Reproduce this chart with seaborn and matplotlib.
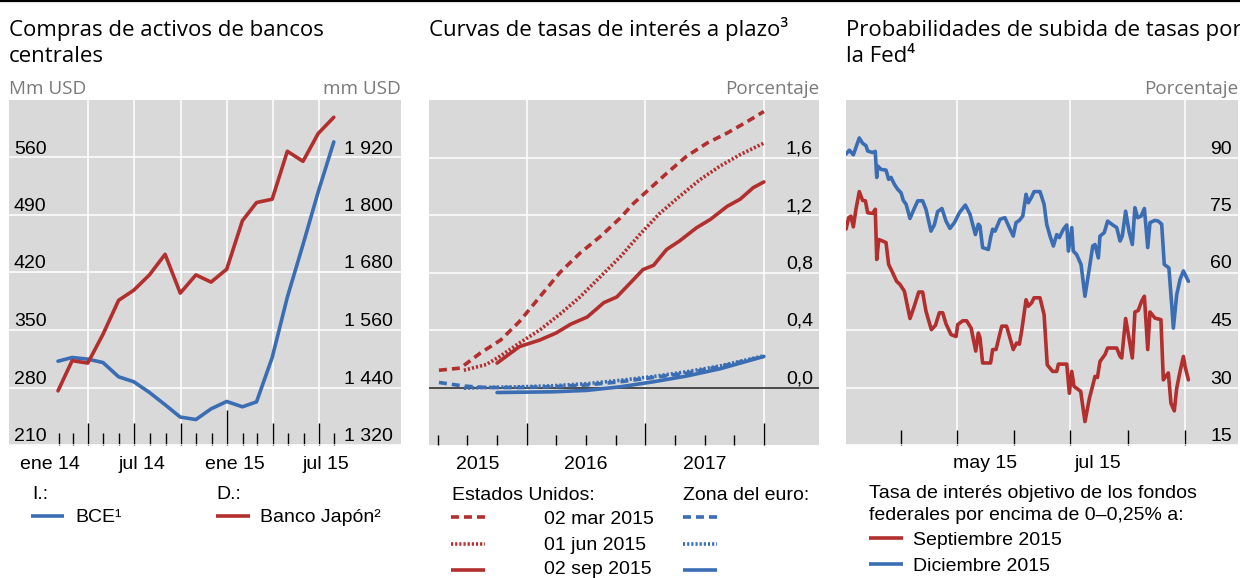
import numpy as np
import pandas as pd
import matplotlib
matplotlib.use("Agg")
import matplotlib.pyplot as plt
import matplotlib.dates as mdates
from matplotlib.lines import Line2D
import seaborn as sns

# ---------------- Data ----------------
# Panel 1: central bank asset purchases (month-end, Jan 2014 - Jul 2015)
p1_first_month_end = "2014-01-31"
bce_mm = [312, 316.5, 314.5, 310.4, 293, 287, 274, 259, 244, 241, 254, 263,
          256.5, 262.5, 316.5, 390, 454, 518, 579]
boj_mm = [1433, 1496, 1491, 1551, 1622, 1643, 1675, 1718, 1637, 1675, 1660, 1687,
          1788, 1826, 1833, 1933, 1912, 1970, 2004]
p1_left_ticks = [210, 280, 350, 420, 490, 560]
p1_right_ticks = [1320, 1440, 1560, 1680, 1800, 1920]
p1_right_labels = ["1 320", "1 440", "1 560", "1 680", "1 800", "1 920"]
p1_xlabels = ["ene 14", "jul 14", "ene 15", "jul 15"]
p1_xlabel_dates = ["2014-01-16", "2014-07-16", "2015-01-16", "2015-07-16"]

# Panel 2: forward curves (x in fractional years)
us_mar_x = [2015.26, 2015.44, 2015.61, 2015.78, 2015.94, 2016.11, 2016.28, 2016.45, 2016.62,
            2016.79, 2016.90, 2016.98, 2017.18, 2017.35, 2017.52, 2017.69, 2017.86, 2018.0]
us_mar_y = [0.12, 0.135, 0.24, 0.33, 0.46, 0.63, 0.80, 0.935, 1.05,
            1.18, 1.28, 1.34, 1.49, 1.61, 1.70, 1.77, 1.85, 1.92]
us_jun_x = [2015.47, 2015.66, 2015.78, 2015.94, 2016.11, 2016.28, 2016.45, 2016.62,
            2016.79, 2016.96, 2017.12, 2017.29, 2017.46, 2017.63, 2017.80, 2018.0]
us_jun_y = [0.12, 0.16, 0.22, 0.31, 0.40, 0.51, 0.63, 0.77,
            0.91, 1.07, 1.21, 1.33, 1.445, 1.54, 1.62, 1.70]
us_sep_x = [2015.75, 2015.94, 2016.11, 2016.25, 2016.37, 2016.51, 2016.65, 2016.76, 2016.90,
            2016.98, 2017.07, 2017.18, 2017.29, 2017.43, 2017.55, 2017.69, 2017.80, 2017.91, 2018.0]
us_sep_y = [0.17, 0.285, 0.33, 0.38, 0.44, 0.49, 0.59, 0.63, 0.75,
            0.82, 0.85, 0.96, 1.02, 1.11, 1.17, 1.26, 1.31, 1.39, 1.43]
ez_mar_x = [2015.26, 2015.47, 2015.66, 2015.94, 2016.22, 2016.51, 2016.79, 2017.07, 2017.35, 2017.63, 2018.0]
ez_mar_y = [0.035, 0.01, 0.0, 0.0, 0.005, 0.018, 0.04, 0.07, 0.10, 0.145, 0.216]
ez_jun_x = [2015.47, 2015.66, 2015.94, 2016.22, 2016.51, 2016.79, 2017.07, 2017.35, 2017.63, 2018.0]
ez_jun_y = [-0.005, 0.0, 0.005, 0.012, 0.027, 0.05, 0.077, 0.11, 0.15, 0.22]
ez_sep_x = [2015.75, 2016.22, 2016.51, 2016.79, 2017.07, 2017.35, 2017.63, 2018.0]
ez_sep_y = [-0.035, -0.03, -0.02, 0.005, 0.04, 0.08, 0.13, 0.216]
p2_ticks = [0.0, 0.4, 0.8, 1.2, 1.6]
p2_labels = ["0,0", "0,4", "0,8", "1,2", "1,6"]
p2_xlabels = ["2015", "2016", "2017"]
p2_xlabel_pos = [2015.59, 2016.5, 2017.5]

# Panel 3: Fed hike probabilities (x = days since 1 Mar 2015)
p3_origin = "2015-03-01"
sep_day = [1.35, 2.8, 4.0, 5.3, 6.7, 8.5, 10.3, 11.8, 13.0, 15.7,
           17.1, 17.9, 19.0, 21.1, 22.9, 24.3, 26.5, 28.6, 30.4, 32.8,
           34.6, 35.8, 38.1, 40.5, 42.6, 44.4, 47.3, 49.5, 51.6, 53.4,
           55.2, 57.9, 60.6, 61.5, 64.2, 66.3, 68.7, 71.2,
           72.6, 73.5, 74.9, 79.2, 80.3, 82.1, 85.2, 87.8, 91.4, 93.2,
           94.7, 95.9, 98.3, 99.5, 101.3, 102.6, 105.8, 108.0, 109.7, 112.6,
           114.8, 115.7, 120.2, 121.6, 122.9, 124.1, 127.7, 130.0, 132.4, 134.5,
           135.4, 136.7, 138.1,
           140.8, 142.2, 147.1, 148.9, 149.8, 151.9, 153.7, 155.5, 156.9, 158.7,
           160.5, 162.0, 163.8, 165.0, 167.7, 170.9, 172.2, 174.9, 176.3, 178.1,
           179.4, 181.2, 183.0, 183.9, 185.7]
sep_prob = [71.3, 74.3, 74.7, 71.9, 76.5, 81.1, 78.8, 78.7, 75.6, 75.4,
            76.5, 63.4, 68.6, 68.2, 67.8, 62.1, 59.9, 57.7, 56.9, 55.1,
            50.8, 48.0, 51.2, 54.9, 54.9, 49.9, 45.1, 46.2, 49.5, 49.5,
            46.6, 43.8, 43.3, 46.4, 47.4, 47.4, 45.5, 39.5,
            44.2, 42.9, 36.4, 36.4, 39.9, 39.9, 46.0, 46.0, 39.9, 41.6,
            41.3, 44.7, 52.9, 51.2, 52.1, 53.4, 53.4, 49.0, 35.9, 34.2,
            34.2, 36.1, 36.1, 28.5, 34.2, 30.3, 29.0, 21.1, 27.2, 31.1,
            32.9, 32.6, 36.8,
            38.6, 40.3, 40.3, 38.1, 37.7, 48.0, 42.9, 37.7, 49.7, 50.1,
            52.5, 53.8, 39.9, 49.7, 48.1, 47.7, 32.0, 33.8, 25.9, 23.9,
            29.8, 34.2, 38.1, 35.5, 32.0]
dic_day = [1.35, 3.14, 5.3, 8.5, 10.3, 12.1, 13.0, 15.7, 17.1, 17.9,
           18.4, 20.2, 22.9, 24.3, 25.6, 27.4, 29.2, 31.0, 32.2, 33.7,
           35.8, 38.1, 40.0, 42.6, 44.4, 47.1, 48.9, 50.7, 53.0, 55.2,
           57.3, 59.7, 62.4, 65.6, 68.1, 71.0,
           72.6, 73.5, 74.9, 78.0, 79.2, 80.3, 81.6, 84.3, 86.9, 89.3,
           91.4, 92.9, 94.7, 96.5, 98.3, 99.5, 101.3, 102.6, 105.8, 108.0,
           109.4, 111.2, 113.0, 114.8, 116.2, 118.4, 120.2, 121.1, 122.9, 123.7,
           125.5, 127.9, 130.0, 132.4, 134.2, 135.4, 137.2, 138.1,
           140.4, 142.2, 144.4, 147.1, 148.9, 150.1, 151.9, 153.7, 155.5, 156.9,
           158.4, 160.2, 162.0, 163.8, 165.0, 167.7, 169.5, 171.3, 172.7, 175.2,
           176.7, 177.6, 179.4, 181.2, 183.0, 185.7]
dic_prob = [90.9, 91.9, 90.7, 95.1, 93.7, 93.1, 91.7, 91.3, 91.6, 84.8,
            87.8, 86.9, 86.7, 84.3, 84.8, 83.0, 81.7, 80.8, 78.8, 77.8,
            74.1, 76.7, 78.7, 78.7, 76.5, 70.8, 72.4, 75.9, 76.7, 73.4,
            71.5, 73.0, 75.6, 77.6, 75.2, 69.9,
            72.6, 72.1, 66.5, 66.0, 69.1, 71.3, 70.8, 73.9, 74.3, 71.7,
            69.5, 73.0, 73.6, 74.7, 80.4, 78.2, 79.7, 81.1, 81.1, 77.8,
            72.6, 69.5, 66.9, 69.9, 69.1, 71.3, 72.4, 65.6, 71.7, 65.6,
            64.7, 62.1, 53.8, 61.2, 66.9, 67.3, 63.8, 69.5,
            70.4, 73.4, 72.6, 71.7, 68.2, 69.5, 76.0, 70.8, 67.3, 76.9,
            74.3, 74.7, 76.7, 66.5, 73.0, 73.6, 73.4, 72.6, 62.1, 61.2,
            51.6, 45.5, 54.2, 58.2, 60.4, 57.7]
p3_ticks = [15, 30, 45, 60, 75, 90]
p3_xlabels = ["may 15", "jul 15"]
p3_xlabel_dates = ["2015-05-16", "2015-07-16"]

# ---------------- Style ----------------
BG = "#d9d9d9"
RED = "#b22f2e"
BLUE = "#3a6db4"
GRAYTXT = "#7a7a7a"
LW = 2.6

sns.set_theme(style="darkgrid", rc={
    "axes.facecolor": BG, "grid.color": "white", "grid.linewidth": 1.1,
    "axes.edgecolor": BG, "xtick.color": "black", "ytick.color": "black",
    "text.color": "black", "axes.labelcolor": "black",
})
plt.rcParams["font.family"] = ["Liberation Sans", "DejaVu Sans"]
TICKFS = 14
TITLE = dict(family=["Open Sans", "DejaVu Sans"], fontsize=16)
UNIT = dict(family=["Open Sans", "DejaVu Sans"], fontsize=13.6, color=GRAYTXT)

W, H = 1240, 578
fig = plt.figure(figsize=(W / 100, H / 100), dpi=100)


def px_axes(l, t, r, b):
    return fig.add_axes([l / W, 1 - b / H, (r - l) / W, (b - t) / H])


def ftext(x, y, s, **kw):
    kw.setdefault("va", "baseline")
    fig.text(x / W, 1 - y / H, s, **kw)


def key(x0, x1, y, color, ls="-"):
    fig.add_artist(Line2D([x0 / W, x1 / W], [1 - y / H, 1 - y / H], color=color,
                          lw=LW, linestyle=ls, dash_capstyle="butt", solid_capstyle="butt"))


def clean(ax):
    for s in ax.spines.values():
        s.set_visible(False)
    ax.set_xlabel("")
    ax.set_ylabel("")


def ylabels_inside(ax, side, ticks, labels, pad_px):
    ax.set_yticks(ticks)
    ax.set_yticklabels(labels, fontsize=TICKFS)
    if side == "left":
        ax.tick_params(axis="y", which="both", left=False, right=False, length=0,
                       labelleft=True, labelright=False, pad=-pad_px * 0.72)
        ha = "left"
    else:
        ax.tick_params(axis="y", which="both", left=False, right=False, length=0,
                       labelleft=False, labelright=True, pad=-pad_px * 0.72)
        ha = "right"
    for t in ax.get_yticklabels():
        t.set_horizontalalignment(ha)
        t.set_verticalalignment("bottom")


# top rule
fig.add_artist(Line2D([0, 1], [1 - 0.8 / H, 1 - 0.8 / H], color="black", lw=1.6))

# ---------------- Panel 1 ----------------
ax1 = px_axes(9, 100, 401, 445)
dates1 = pd.date_range(p1_first_month_end, periods=len(bce_mm), freq="ME")
df1 = pd.DataFrame({"fecha": dates1, "bce": bce_mm, "boj": boj_mm})
sns.lineplot(data=df1, x="fecha", y="bce", ax=ax1, color=BLUE, lw=LW)
ax1r = ax1.twinx()
sns.lineplot(data=df1, x="fecha", y="boj", ax=ax1r, color=RED, lw=LW)
ax1.set_xlim(pd.Timestamp("2013-10-26"), pd.Timestamp("2015-12-11"))
ax1.set_ylim(210, 630)
ax1r.set_ylim(1320, 2040)
q_dates = pd.date_range("2014-04-01", "2015-07-01", freq="QS")
q_ticks = mdates.date2num(q_dates)
m_ticks = mdates.date2num(pd.date_range("2014-02-01", "2015-08-01", freq="MS"))
ax1.set_xticks(q_ticks)
ax1.set_xticks(m_ticks, minor=True)
ax1.tick_params(axis="x", which="major", bottom=True, direction="in", length=15.6,
                width=1.0, color="black", labelbottom=False)
ax1.tick_params(axis="x", which="minor", bottom=True, direction="in", length=8.4,
                width=1.0, color="black", labelbottom=False)
ax1.grid(axis="x", which="major", color="white", lw=1.1)
ax1.grid(axis="y", which="major", color="white", lw=1.1)
ax1.grid(axis="x", which="minor", visible=False)
ax1r.grid(False)
ylabels_inside(ax1, "left", p1_left_ticks, [str(v) for v in p1_left_ticks], 5)
ylabels_inside(ax1r, "right", p1_right_ticks, p1_right_labels, 8)
clean(ax1)
clean(ax1r)
# longer tick at the year boundary (Jan 2015)
ax1.get_xticklabels()
year_idx = list(q_dates).index(pd.Timestamp("2015-01-01"))
ax1.xaxis.get_major_ticks()[year_idx].tick1line.set_markersize(25)
for lab, d in zip(p1_xlabels, p1_xlabel_dates):
    ax1.text(mdates.date2num(pd.Timestamp(d)), -24.3 / 345, lab, transform=ax1.get_xaxis_transform(),
             ha="center", va="baseline", fontsize=TICKFS)

ftext(9, 36, "Compras de activos de bancos", **TITLE)
ftext(9, 62, "centrales", **TITLE)
ftext(9, 94, "Mm USD", **UNIT)
ftext(401, 94, "mm USD", ha="right", **UNIT)
ftext(32, 499, "I.:", fontsize=TICKFS)
ftext(216, 499, "D.:", fontsize=TICKFS)
key(31, 64, 516, BLUE)
ftext(75, 521.7, "BCE\u00b9", fontsize=TICKFS)
key(216, 250, 516, RED)
ftext(260, 521.7, "Banco Japón\u00b2", fontsize=TICKFS)

# ---------------- Panel 2 ----------------
ax2 = px_axes(429, 100, 819, 445)
DASH = (0, (2.2, 1.4))
DOT = (0, (0.6, 0.55))
ax2.axhline(0, color="#3c3c3c", lw=1.3, zorder=1.5)
sns.lineplot(x=ez_mar_x, y=ez_mar_y, ax=ax2, color=BLUE, lw=LW, linestyle=DASH, dash_capstyle="butt")
sns.lineplot(x=ez_jun_x, y=ez_jun_y, ax=ax2, color=BLUE, lw=LW, linestyle=DOT, dash_capstyle="butt")
sns.lineplot(x=ez_sep_x, y=ez_sep_y, ax=ax2, color=BLUE, lw=LW)
sns.lineplot(x=us_mar_x, y=us_mar_y, ax=ax2, color=RED, lw=LW, linestyle=DASH, dash_capstyle="butt")
sns.lineplot(x=us_jun_x, y=us_jun_y, ax=ax2, color=RED, lw=LW, linestyle=DOT, dash_capstyle="butt")
sns.lineplot(x=us_sep_x, y=us_sep_y, ax=ax2, color=RED, lw=LW)
ax2.set_xlim(2015.176, 2018.465)
ax2.set_ylim(-0.4, 2.0)
ax2.set_xticks([2016, 2017, 2018])
ax2.set_xticks(np.arange(2015.25, 2018.0, 0.25), minor=True)
ax2.tick_params(axis="x", which="major", bottom=True, direction="in", length=15.8,
                width=1.0, color="black", labelbottom=False)
ax2.tick_params(axis="x", which="minor", bottom=True, direction="in", length=7.2,
                width=1.0, color="black", labelbottom=False)
ax2.grid(axis="x", which="major", color="white", lw=1.1)
ax2.grid(axis="x", which="minor", visible=False)
ax2.grid(axis="y", which="major", color="white", lw=1.1)
ax2.yaxis.tick_right()
ylabels_inside(ax2, "right", p2_ticks, p2_labels, 6)
clean(ax2)
for lab, xv in zip(p2_xlabels, p2_xlabel_pos):
    ax2.text(xv, -24.3 / 345, lab, transform=ax2.get_xaxis_transform(),
             ha="center", va="baseline", fontsize=TICKFS)

ftext(429, 36, "Curvas de tasas de interés a plazo\u00b3", **TITLE)
ftext(819, 94, "Porcentaje", ha="right", **UNIT)
ftext(451.7, 500, "Estados Unidos:", fontsize=TICKFS)
ftext(683.3, 500, "Zona del euro:", fontsize=TICKFS)
leg_rows = [(517.3, DASH, "02 mar 2015"), (544.0, DOT, "01 jun 2015"), (569.5, "-", "02 sep 2015")]
for yk, ls, lab in leg_rows:
    key(451, 485, yk, RED, ls)
    key(683.3, 717, yk, BLUE, ls)
    ftext(544.3, min(yk + 6.3, 573.5), lab, fontsize=TICKFS)

# ---------------- Panel 3 ----------------
ax3 = px_axes(846, 100, 1238, 445)
origin = pd.Timestamp(p3_origin)
df_sep = pd.DataFrame({"fecha": origin + pd.to_timedelta(sep_day, unit="D"), "prob": sep_prob})
df_dic = pd.DataFrame({"fecha": origin + pd.to_timedelta(dic_day, unit="D"), "prob": dic_prob})
sns.lineplot(data=df_sep, x="fecha", y="prob", ax=ax3, color=RED, lw=LW)
sns.lineplot(data=df_dic, x="fecha", y="prob", ax=ax3, color=BLUE, lw=LW)
ax3.set_xlim(origin + pd.Timedelta(days=1.35), origin + pd.Timedelta(days=212.4))
ax3.set_ylim(15, 105)
ax3.set_xticks(mdates.date2num(pd.to_datetime(["2015-05-01", "2015-07-01", "2015-09-01"])))
ax3.set_xticks(mdates.date2num(pd.date_range("2015-04-01", "2015-09-01", freq="MS")), minor=True)
ax3.tick_params(axis="x", which="both", bottom=True, direction="in", length=10.8,
                width=1.0, color="black", labelbottom=False)
ax3.grid(axis="x", which="major", color="white", lw=1.1)
ax3.grid(axis="x", which="minor", visible=False)
ax3.grid(axis="y", which="major", color="white", lw=1.1)
ax3.yaxis.tick_right()
ylabels_inside(ax3, "right", p3_ticks, [str(v) for v in p3_ticks], 6)
clean(ax3)
for lab, d in zip(p3_xlabels, p3_xlabel_dates):
    ax3.text(mdates.date2num(pd.Timestamp(d)), -23.3 / 345, lab, transform=ax3.get_xaxis_transform(),
             ha="center", va="baseline", fontsize=TICKFS)

ftext(846, 36, "Probabilidades de subida de tasas por", **TITLE)
ftext(846, 62, "la Fed\u2074", **TITLE)
ftext(1238, 94, "Porcentaje", ha="right", **UNIT)
ftext(869, 498.3, "Tasa de interés objetivo de los fondos", fontsize=TICKFS)
ftext(869, 520, "federales por encima de 0\u20130,25% a:", fontsize=TICKFS)
key(869, 903, 537.7, RED)
ftext(913.3, 545, "Septiembre 2015", fontsize=TICKFS)
key(869, 903, 564.3, BLUE)
ftext(913.3, 571, "Diciembre 2015", fontsize=TICKFS)

fig.savefig("out.png", dpi=100)
